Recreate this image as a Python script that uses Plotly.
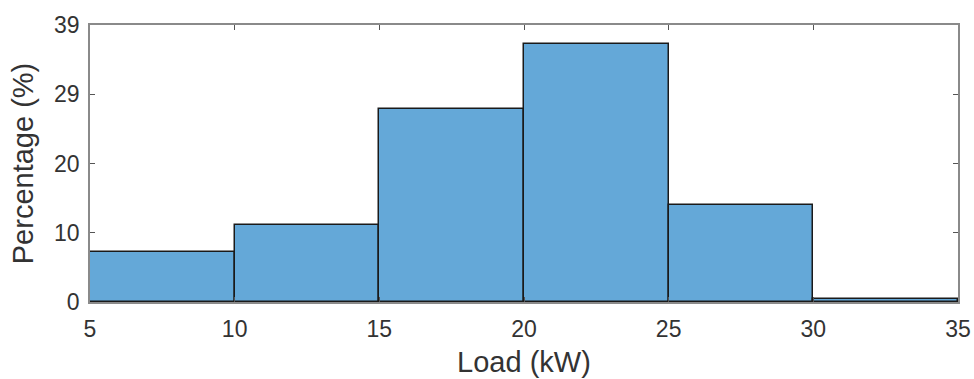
import plotly.graph_objects as go

bin_edges = [5, 10, 15, 20, 25, 30, 35]
percentages = [7.0, 10.8, 27.2, 36.3, 13.6, 0.4]
x_ticks = [5, 10, 15, 20, 25, 30, 35]
y_tickvals = [0, 9.75, 19.5, 29.25, 39]
y_ticktext = ["0", "10", "20", "29", "39"]

centers = [(a + b) / 2 for a, b in zip(bin_edges[:-1], bin_edges[1:])]
widths = [b - a for a, b in zip(bin_edges[:-1], bin_edges[1:])]

fig = go.Figure(go.Bar(
    x=centers, y=percentages, width=widths,
    marker=dict(color="#64A8D8", line=dict(color="#1a1a1a", width=1.5)),
    hoverinfo="skip",
))

font_family = "Liberation Sans, Arial, sans-serif"
axis_common = dict(
    showgrid=False, zeroline=False, showline=True, linecolor="#8a8a8a", linewidth=1.5,
    mirror="allticks", ticks="inside", ticklen=5, tickcolor="#555555", tickwidth=1,
    tickfont=dict(family=font_family, size=23, color="#333333"),
    automargin=False,
)
fig.update_layout(
    width=974, height=379,
    margin=dict(l=90, r=16, t=25, b=77),
    paper_bgcolor="white", plot_bgcolor="white",
    showlegend=False, bargap=0,
    xaxis=dict(range=[5, 35], tickvals=x_ticks, ticktext=[str(v) for v in x_ticks],
               ticklabelstandoff=6,
               title=dict(text="Load (kW)", font=dict(family=font_family, size=29, color="#333333"), standoff=10),
               **axis_common),
    yaxis=dict(range=[0, 39], tickvals=y_tickvals, ticktext=y_ticktext,
               ticklabelstandoff=4,
               title=dict(text="Percentage (%)", font=dict(family=font_family, size=29, color="#333333"), standoff=12),
               **axis_common),
)
fig.write_html(
    "out.html",
    config={"displayModeBar": False},
    post_script="document.body.style.margin='0';document.body.style.overflow='hidden';",
)
